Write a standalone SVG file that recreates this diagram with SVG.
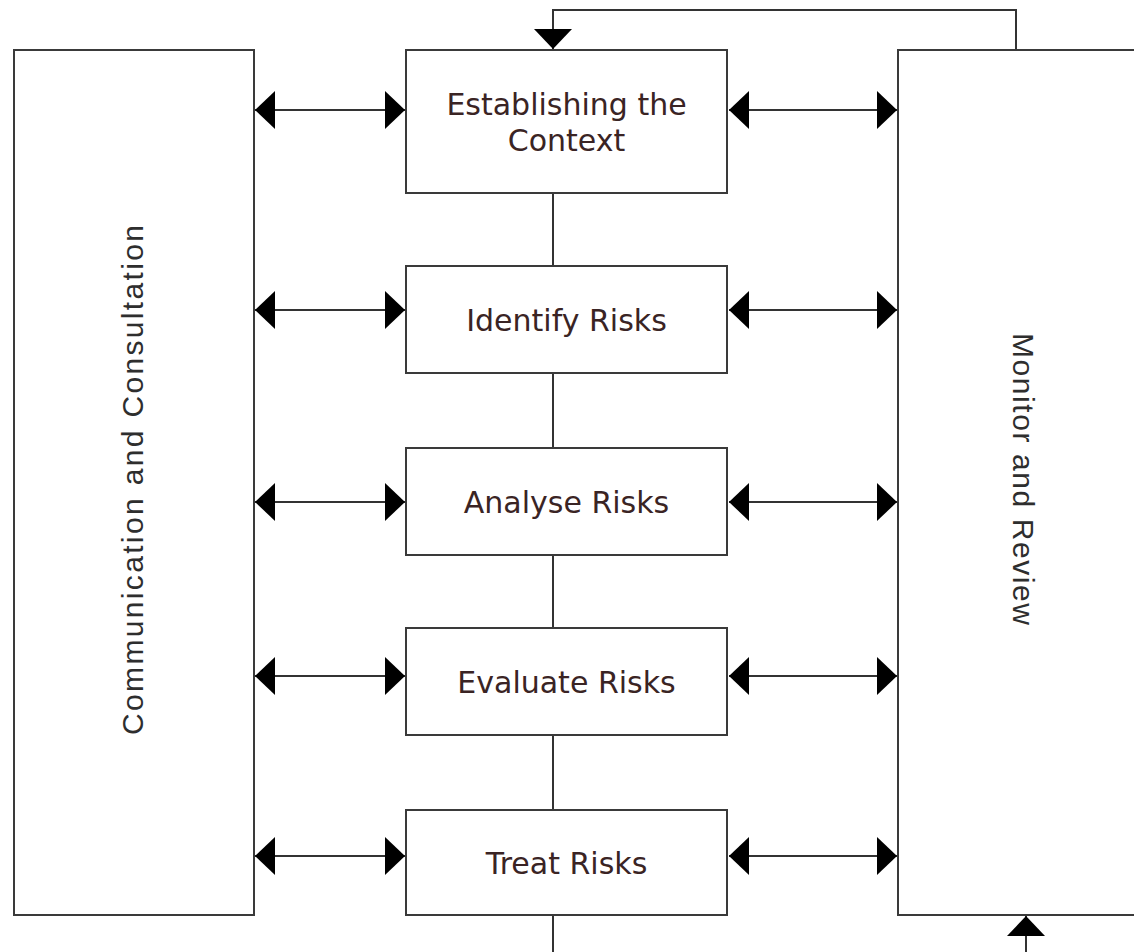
<svg xmlns="http://www.w3.org/2000/svg" width="1134" height="952" viewBox="0 0 1134 952">
  <style>
    .box { fill: #ffffff; stroke: #3a3a3a; stroke-width: 2; }
    .conn { fill: none; stroke: #333333; stroke-width: 2; }
    .lbl { font-family: "DejaVu Sans", Verdana, sans-serif; font-size: 30px; fill: #3a2424; text-anchor: middle; }
    .vlbl { font-family: "Liberation Sans", Arial, sans-serif; font-size: 30px; fill: #2e2e2e; text-anchor: middle; }
  </style>
  <defs>
    <marker id="ah" viewBox="0 -19 20 38" refX="20" refY="0" markerWidth="20" markerHeight="38" markerUnits="userSpaceOnUse" orient="auto-start-reverse">
      <path d="M0,-19 L20,0 L0,19 Z" fill="#000000"/>
    </marker>
  </defs>
  <rect width="1134" height="952" fill="#ffffff"/>

  <g id="connectors">
    <!-- vertical chain -->
    <path class="conn" d="M553,193 V266"/>
    <path class="conn" d="M553,373 V448"/>
    <path class="conn" d="M553,555 V628"/>
    <path class="conn" d="M553,735 V810"/>
    <path class="conn" d="M553,915 V952"/>
    <!-- feedback loop top -->
    <path class="conn" d="M1016,50 V10 H553 V49" marker-end="url(#ah)"/>
    <!-- bottom arrow into monitor -->
    <path class="conn" d="M1026,952 V916" marker-end="url(#ah)"/>
    <!-- left double arrows -->
    <path class="conn" d="M255,110 H405" marker-start="url(#ah)" marker-end="url(#ah)"/>
    <path class="conn" d="M255,310 H405" marker-start="url(#ah)" marker-end="url(#ah)"/>
    <path class="conn" d="M255,502 H405" marker-start="url(#ah)" marker-end="url(#ah)"/>
    <path class="conn" d="M255,676 H405" marker-start="url(#ah)" marker-end="url(#ah)"/>
    <path class="conn" d="M255,856 H405" marker-start="url(#ah)" marker-end="url(#ah)"/>
    <!-- right double arrows -->
    <path class="conn" d="M729,110 H897" marker-start="url(#ah)" marker-end="url(#ah)"/>
    <path class="conn" d="M729,310 H897" marker-start="url(#ah)" marker-end="url(#ah)"/>
    <path class="conn" d="M729,502 H897" marker-start="url(#ah)" marker-end="url(#ah)"/>
    <path class="conn" d="M729,676 H897" marker-start="url(#ah)" marker-end="url(#ah)"/>
    <path class="conn" d="M729,856 H897" marker-start="url(#ah)" marker-end="url(#ah)"/>
  </g>

  <g id="communication">
    <rect class="box" x="14" y="50" width="240" height="865"/>
    <text class="vlbl" transform="translate(143,480) rotate(-90)" textLength="510" lengthAdjust="spacing">Communication and Consultation</text>
  </g>

  <g id="monitor">
    <rect class="box" x="898" y="50" width="260" height="865"/>
    <text class="vlbl" transform="translate(1013,479) rotate(90)" textLength="292" lengthAdjust="spacing">Monitor and Review</text>
  </g>

  <g id="establish">
    <rect class="box" x="406" y="50" width="321" height="143"/>
    <text class="lbl" x="566.5" y="115">Establishing the</text>
    <text class="lbl" x="566.5" y="151">Context</text>
  </g>

  <g id="identify">
    <rect class="box" x="406" y="266" width="321" height="107"/>
    <text class="lbl" x="566.5" y="331">Identify Risks</text>
  </g>

  <g id="analyse">
    <rect class="box" x="406" y="448" width="321" height="107"/>
    <text class="lbl" x="566.5" y="513">Analyse Risks</text>
  </g>

  <g id="evaluate">
    <rect class="box" x="406" y="628" width="321" height="107"/>
    <text class="lbl" x="566.5" y="693">Evaluate Risks</text>
  </g>

  <g id="treat">
    <rect class="box" x="406" y="810" width="321" height="105"/>
    <text class="lbl" x="566.5" y="874">Treat Risks</text>
  </g>
</svg>
